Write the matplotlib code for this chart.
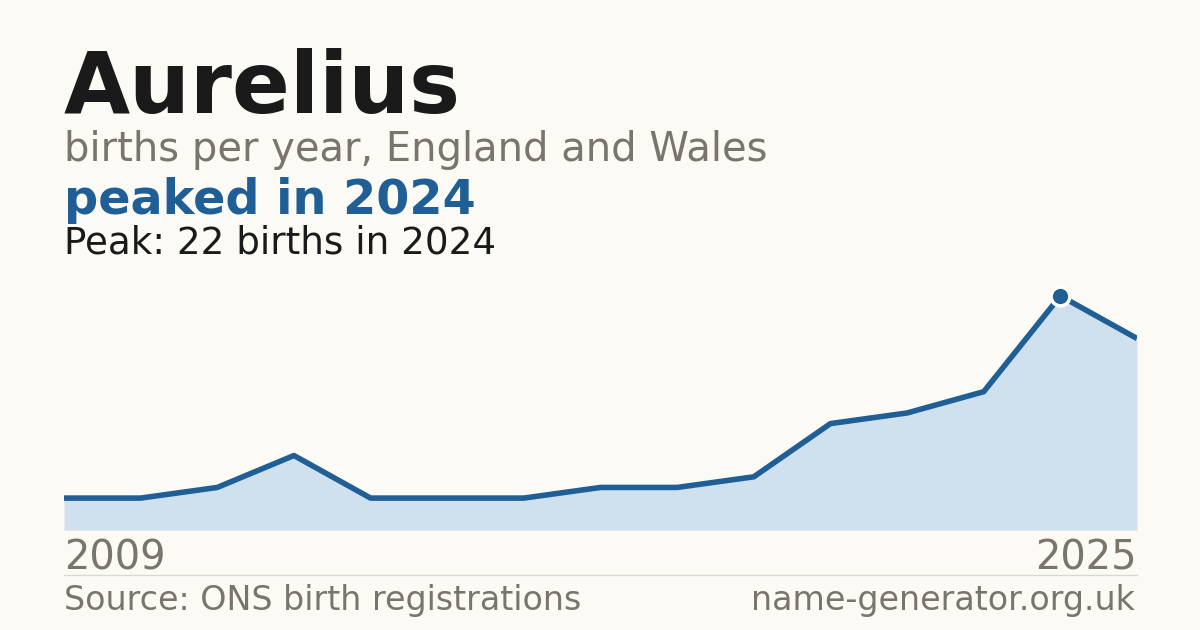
import matplotlib
matplotlib.use("Agg")
import matplotlib.pyplot as plt
import numpy as np

plt.rcParams["font.family"] = ["DejaVu Sans"]
plt.rcParams["font.sans-serif"] = ["DejaVu Sans"]

# ---- data ----
name = "Aurelius"
subtitle = "births per year, England and Wales"
headline = "peaked in 2024"
peak_note = "Peak: 22 births in 2024"
first_year = "2009"
last_year = "2025"
births = [3, 3, 4, 7, 3, 3, 3, 4, 4, 5, 10, 11, 13, 22, 18]
peak_index = 13
source = "Source: ONS birth registrations"
site = "name-generator.org.uk"

BG = "#fbfaf5"
BLUE = "#1f5f96"
FILL = "#cfe0ef"
DARK = "#1a1a1a"
GREY = "#79746c"
RULE = "#dcd8d0"
FAM = "DejaVu Sans"

W, H = 1200, 630
fig = plt.figure(figsize=(W / 100, H / 100), dpi=100, facecolor=BG)

def fy(px):
    return 1 - px / H

def fx(px):
    return px / W

def pt(px):
    return px * 0.72

L, R = 64, 1137
top, bot = 280, 530
ax = fig.add_axes([fx(L), fy(bot), fx(R - L), (bot - top) / H])
ax.set_facecolor(BG)
x = np.arange(len(births))
ax.fill_between(x, births, 0, color=FILL, lw=0)
ax.plot(x, births, color=BLUE, lw=4.0, solid_joinstyle="round", solid_capstyle="butt")
ax.plot([x[peak_index]], [births[peak_index]], "o", ms=13.5, mfc=BLUE, mec="white", mew=2.5, zorder=5)
ax.set_xlim(0, len(births) - 1)
ax.set_ylim(0, (bot - top) / 10.64)
ax.axhline(0, color=RULE, lw=1)
for s in ax.spines.values():
    s.set_visible(False)
ax.set_xticks([])
ax.set_yticks([])

kw = dict(family=FAM, va="baseline")
fig.text(fx(L), fy(113), name, fontsize=pt(85.5), fontweight="bold", color=DARK, ha="left", **kw)
fig.text(fx(L), fy(161), subtitle, fontsize=pt(40), color=GREY, ha="left", **kw)
fig.text(fx(L), fy(214), headline, fontsize=pt(47.7), fontweight="bold", color=BLUE, ha="left", **kw)
fig.text(fx(L), fy(254), peak_note, fontsize=pt(37.3), color=DARK, ha="left", **kw)

fig.text(fx(L), fy(570), first_year, fontsize=pt(40), color=GREY, ha="left", **kw)
fig.text(fx(R), fy(570), last_year, fontsize=pt(40), color=GREY, ha="right", **kw)

fig.add_artist(plt.Line2D([fx(L), fx(R)], [fy(574.5), fy(574.5)], color=RULE, lw=1))

fig.text(fx(L), fy(610), source, fontsize=pt(33.3), color=GREY, ha="left", **kw)
fig.text(fx(1135), fy(610), site, fontsize=pt(33.3), color=GREY, ha="right", **kw)

fig.savefig("out.png", dpi=100, facecolor=BG)
